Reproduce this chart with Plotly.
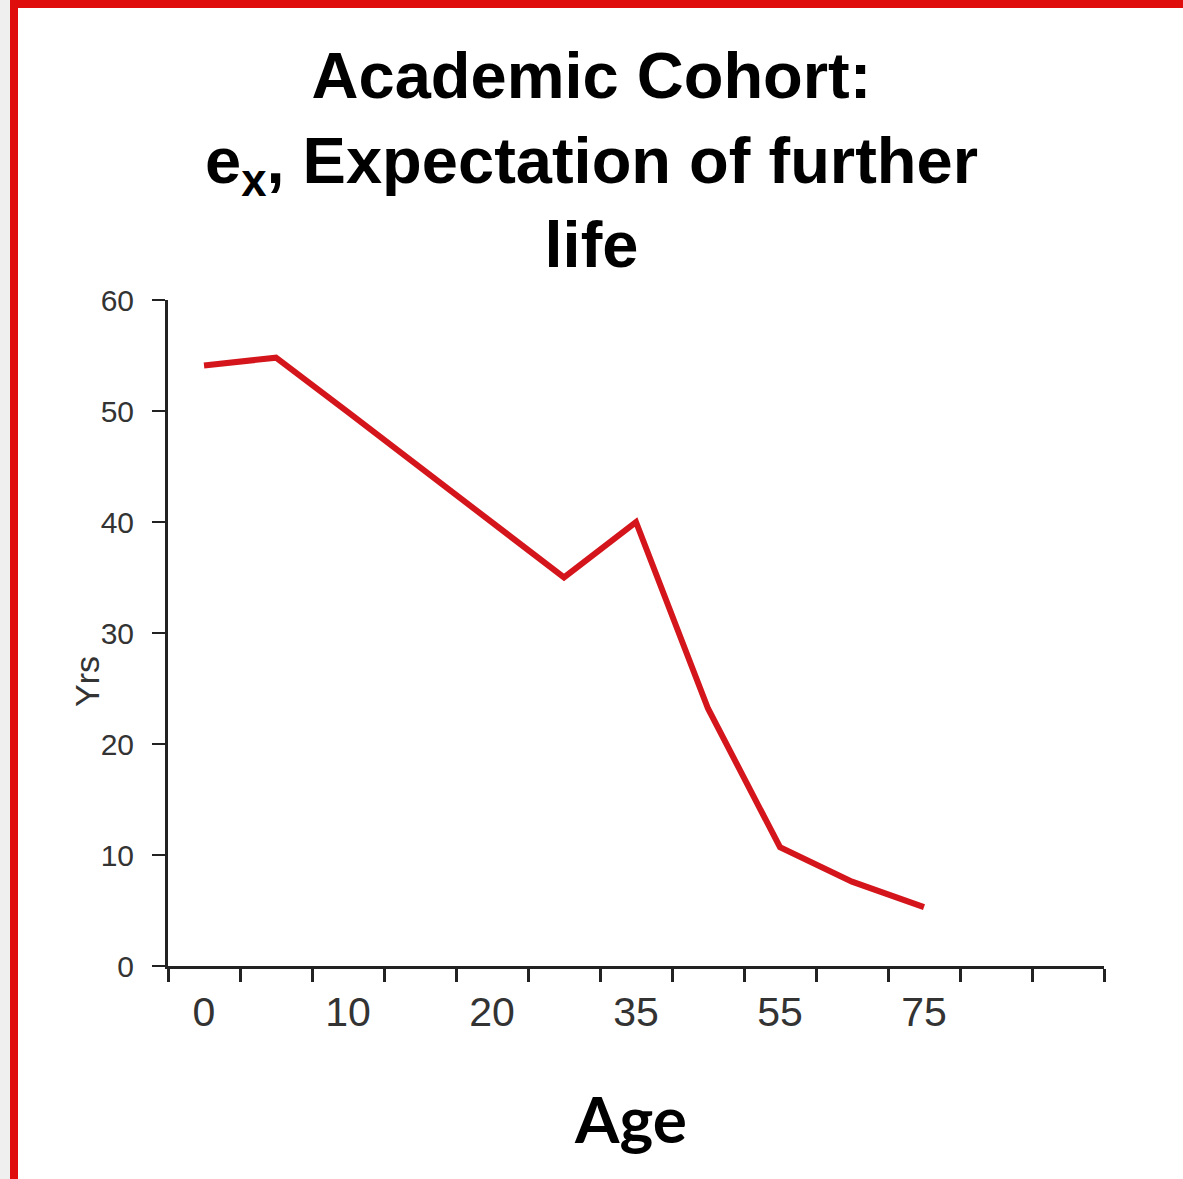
import plotly.graph_objects as go

# age groups (category axis) and expectation of further life
ages = ["0", "5", "10", "15", "20", "25", "35", "45", "55", "65", "75", "85", "95"]
tick_labels = ["0", "", "10", "", "20", "", "35", "", "55", "", "75", "", ""]
ex_years = [54.1, 54.8, 49.9, 44.9, 40.0, 35.0, 40.0, 23.2, 10.7, 7.6, 5.3]

W, H = 1183, 1179
L, R, T, B = 168, 79, 300, 213


def px(x):
    return (x - L) / (W - L - R)


def py(y):
    return (H - B - y) / (H - T - B)


fig = go.Figure()
fig.add_trace(go.Scatter(x=ages[:len(ex_years)], y=ex_years, mode="lines",
                         line=dict(color="#d4161c", width=6), showlegend=False))

fig.update_layout(
    width=W, height=H,
    margin=dict(l=L, r=R, t=T, b=B),
    paper_bgcolor="white", plot_bgcolor="white",
    title=dict(text="Academic Cohort:<br>e<sub>x</sub>, Expectation of further<br>life",
               x=0.5, xanchor="center", y=1 - 98 / H, yanchor="middle",
               font=dict(family="Liberation Sans", size=65, color="black", weight="bold")),
    font=dict(family="Liberation Sans", color="#222"),
)

fig.update_xaxes(type="category", categoryorder="array", categoryarray=ages,
                 tickmode="array", tickvals=ages, ticktext=tick_labels,
                 tickson="boundaries", ticks="outside", ticklen=13, tickwidth=3,
                 tickcolor="#222", showline=True, linecolor="#222", linewidth=3,
                 showgrid=False, zeroline=False, tickfont=dict(size=41, color="#333"),
                 ticklabelstandoff=8, range=[-0.5, len(ages) - 0.5])
fig.update_yaxes(range=[0, 60], dtick=10, ticks="outside", ticklen=13, tickwidth=2,
                 tickcolor="#222", showline=True, linecolor="#222", linewidth=3,
                 showgrid=False, zeroline=False, tickfont=dict(size=30, color="#333"),
                 ticklabelstandoff=12)

fig.add_annotation(text="Yrs", textangle=-90, x=px(87), y=py(682), xref="paper", yref="paper",
                   xanchor="center", yanchor="middle",
                   showarrow=False, font=dict(size=34, color="#333"))
fig.add_annotation(text="<b>Age</b>", x=px(630), y=py(1118), xref="paper", yref="paper",
                   xanchor="center", yanchor="middle",
                   showarrow=False, font=dict(family="Lato", size=64, color="black"))

# frame around the slide
fig.add_shape(type="rect", xref="paper", yref="paper", x0=px(0), x1=px(10), y0=py(H), y1=py(0),
              fillcolor="#efefef", line_width=0, layer="below")
fig.add_shape(type="rect", xref="paper", yref="paper", x0=px(10), x1=px(18), y0=py(H), y1=py(0),
              fillcolor="#e00d0d", line_width=0)
fig.add_shape(type="rect", xref="paper", yref="paper", x0=px(10), x1=px(W), y0=py(8), y1=py(0),
              fillcolor="#e00d0d", line_width=0)

fig.write_html("out.html", config={"displayModeBar": False},
               post_script="document.body.style.margin='0';")
